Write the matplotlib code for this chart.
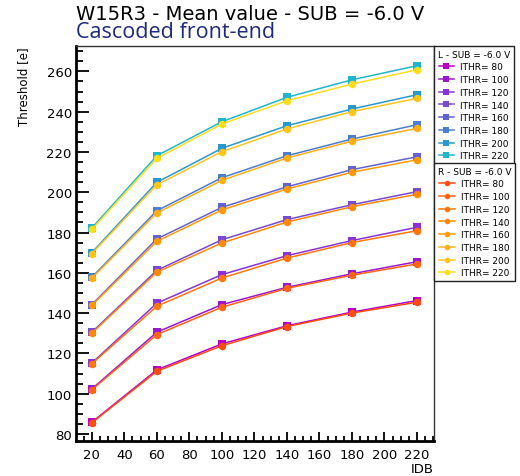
import numpy as np
import matplotlib.pyplot as plt
from matplotlib.lines import Line2D
from matplotlib.ticker import MultipleLocator

# -----------------------------
# Threshold scan data (W15R3, SUB = -6.0 V)
# -----------------------------
idb = [20, 60, 100, 140, 180, 220]
ithr = [80, 100, 120, 140, 160, 180, 200, 220]

# left half of the matrix, one row per ITHR setting
thr_L = [
    [85.8, 111.8, 124.7, 133.7, 140.5, 146.2],
    [102.3, 130.5, 144.2, 152.8, 159.5, 165.5],
    [115.2, 144.9, 159.1, 168.5, 176.0, 182.6],
    [130.5, 161.2, 176.4, 186.4, 193.8, 200.3],
    [144.2, 176.8, 192.5, 202.7, 211.2, 217.6],
    [157.8, 190.8, 207.2, 218.1, 226.4, 233.5],
    [170.0, 204.9, 221.8, 233.0, 241.3, 248.4],
    [182.2, 218.1, 235.0, 247.1, 255.8, 262.8],
]
# right half of the matrix
thr_R = [
    [85.5, 111.1, 123.8, 133.3, 140.0, 145.4],
    [101.9, 129.3, 142.9, 152.3, 158.8, 164.4],
    [114.8, 143.4, 157.4, 167.3, 175.0, 180.9],
    [130.0, 160.3, 174.8, 185.2, 192.8, 199.0],
    [143.8, 175.6, 191.2, 201.6, 209.9, 216.1],
    [157.3, 189.7, 205.9, 217.0, 225.3, 231.7],
    [169.5, 203.7, 220.1, 231.4, 240.0, 246.6],
    [181.5, 216.8, 233.9, 245.4, 253.7, 260.8],
]

colors_L = ['#b800c4', '#9c16d0', '#8a32d6', '#7848d6', '#6262d2', '#4a7ed0', '#2a98d0', '#1eb6cc']
colors_R = ['#ff4c10', '#ff6414', '#ff760c', '#ff8808', '#ff9a04', '#ffae18', '#ffc41c', '#ffdc1c']

# -----------------------------
# Plot
# -----------------------------
plt.rcParams['font.family'] = 'DejaVu Sans'

fig = plt.figure(figsize=(5.2, 4.77), dpi=100)
ax = fig.add_axes([0.1462, 0.0734, 0.6885, 0.8281])

for i in range(len(ithr)):
    ax.plot(idb, thr_L[i], color=colors_L[i], lw=1.1, marker='s', ms=5.6,
            markeredgewidth=0)
for i in range(len(ithr)):
    ax.plot(idb, thr_R[i], color=colors_R[i], lw=1.1, marker='o', ms=5.4,
            markeredgewidth=0)

ax.set_xlim(10.3, 230.5)
ax.set_ylim(76.5, 272.6)
ax.xaxis.set_major_locator(MultipleLocator(20))
ax.xaxis.set_minor_locator(MultipleLocator(5))
ax.yaxis.set_major_locator(MultipleLocator(20))
ax.yaxis.set_minor_locator(MultipleLocator(5))
ax.tick_params(which='both', direction='in', top=False, right=False,
               labelsize=9.5, width=1.3)
ax.tick_params(axis='y', which='major', length=9.5, pad=3)
ax.tick_params(axis='y', which='minor', length=5)
ax.tick_params(axis='x', which='major', length=6.5, pad=5)
ax.tick_params(axis='x', which='minor', length=3.5)

for side in ['left', 'bottom']:
    ax.spines[side].set_linewidth(2)
for side in ['top', 'right']:
    ax.spines[side].set_linewidth(1)
    ax.spines[side].set_color('#333333')

ax.set_xlabel('IDB', fontsize=9.5, loc='right', labelpad=1)
ax.set_ylabel('Threshold [e]', fontsize=8.5, loc='top', labelpad=12)

fig.text(0.146, 0.959, 'W15R3 - Mean value - SUB = -6.0 V', fontsize=14,
         va='baseline')
fig.text(0.146, 0.921, 'Cascoded front-end', fontsize=15.5, color='#1c2a7c',
         family='Open Sans', va='baseline')

# -----------------------------
# Legends
# -----------------------------
def add_legend(colors, marker, title, top):
    handles = [Line2D([], [], color=c, lw=1.1, marker=marker, ms=4, markeredgewidth=0)
               for c in colors]
    labels = ['ITHR= %d' % t for t in ithr]
    leg = fig.legend(handles, labels, title=title, loc='upper left',
                     bbox_to_anchor=(0.8346, top), borderaxespad=0,
                     fontsize=6.5, title_fontsize=6.5, handlelength=1.7,
                     handletextpad=0.7, labelspacing=0.41, borderpad=0.42,
                     fancybox=False, framealpha=1, edgecolor='#222222')
    leg.get_frame().set_linewidth(1)
    return leg

add_legend(colors_L, 's', 'L - SUB = -6.0 V', 1 - 47 / 477)
add_legend(colors_R, 'o', 'R - SUB = -6.0 V', 1 - 164 / 477)

fig.savefig('out.png', dpi=100)
